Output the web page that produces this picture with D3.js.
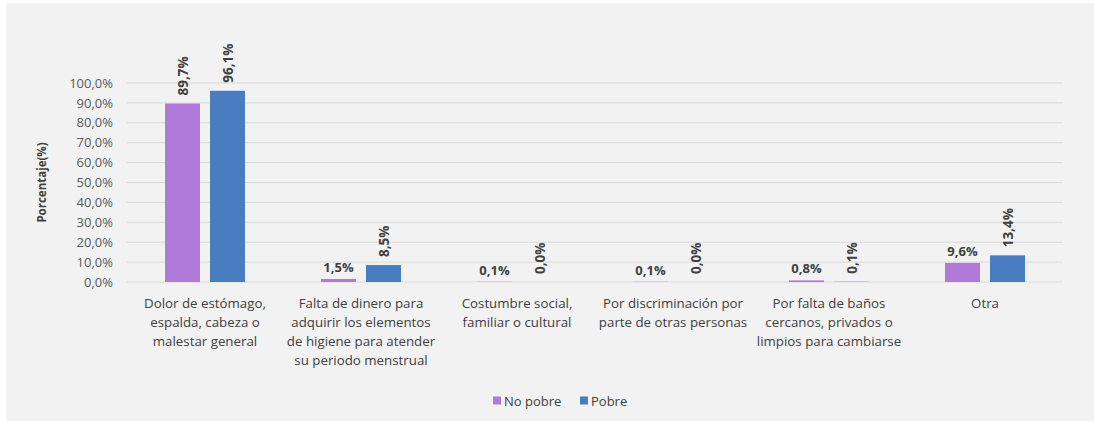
<!DOCTYPE html>
<html lang="es">
<head>
<meta charset="UTF-8">
<script src="https://cdn.jsdelivr.net/npm/d3@7"></script>
<style>
  body { margin: 0; background: #ffffff; }
  svg { display: block; font-family: "Open Sans", "Noto Sans", sans-serif; }
</style>
</head>
<body>
<div id="chart"></div>
<script>
// chart data
const categories = [
  ["Dolor de estómago,", "espalda, cabeza o", "malestar general"],
  ["Falta de dinero para", "adquirir los elementos", "de higiene para atender", "su periodo menstrual"],
  ["Costumbre social,", "familiar o cultural"],
  ["Por discriminación por", "parte de otras personas"],
  ["Por falta de baños", "cercanos, privados o", "limpios para cambiarse"],
  ["Otra"]
];
const seriesNames = ["No pobre", "Pobre"];
const noPobre = [89.7, 1.5, 0.1, 0.1, 0.8, 9.6];
const pobre = [96.1, 8.5, 0.0, 0.0, 0.1, 13.4];
const yTicks = [0, 10, 20, 30, 40, 50, 60, 70, 80, 90, 100];
const colors = ["#b07ad9", "#4a7cc0"];

const W = 1094, H = 423;
const margin = { left: 127, right: 31, top: 83, bottom: 141 };

const svg = d3.select("#chart").append("svg")
  .attr("width", W).attr("height", H);

// gray panel
svg.append("rect")
  .attr("x", 6).attr("y", 3)
  .attr("width", W - 6).attr("height", H - 5)
  .attr("fill", "#f2f2f2");

const fmt = v => d3.format(".1f")(v).replace(".", ",") + "%";

const x0 = d3.scaleBand()
  .domain(d3.range(categories.length))
  .range([margin.left, W - margin.right]);

const y = d3.scaleLinear()
  .domain([0, 100])
  .range([H - margin.bottom, margin.top]);

// gridlines
svg.append("g").selectAll("line")
  .data(yTicks)
  .join("line")
  .attr("x1", margin.left).attr("x2", W - margin.right)
  .attr("y1", d => y(d)).attr("y2", d => y(d))
  .attr("stroke", "#d9d9d9").attr("stroke-width", 1);

// y axis labels
const yAxis = d3.axisLeft(y).tickValues(yTicks).tickFormat(fmt).tickSize(0).tickPadding(14);
svg.append("g")
  .attr("transform", `translate(${margin.left},0)`)
  .call(yAxis)
  .call(g => g.select(".domain").remove())
  .call(g => g.selectAll("text")
    .attr("font-size", 13)
    .attr("fill", "#595959")
    .attr("font-family", "'Open Sans', sans-serif"));

// y axis title
svg.append("text")
  .attr("transform", `translate(46,${(y(0) + y(100)) / 2}) rotate(-90)`)
  .attr("text-anchor", "middle")
  .attr("font-size", 11.5)
  .attr("font-weight", "bold")
  .attr("fill", "#404040")
  .text("Porcentaje(%)");

// bars
const barW = 35, gap = 10;
const x1 = d3.scaleOrdinal().domain([0, 1]).range([-(barW + gap / 2), gap / 2]);

const rows = [];
categories.forEach((c, i) => {
  [noPobre[i], pobre[i]].forEach((v, s) => rows.push({ i, s, v }));
});

const cx = i => x0(i) + x0.bandwidth() / 2;

svg.append("g").selectAll("rect")
  .data(rows)
  .join("rect")
  .attr("x", d => cx(d.i) + x1(d.s))
  .attr("y", d => y(d.v))
  .attr("width", barW)
  .attr("height", d => y(0) - y(d.v))
  .attr("fill", d => colors[d.s]);

// value labels
const lab = svg.append("g")
  .attr("font-weight", "bold")
  .attr("fill", "#404040");

rows.forEach(d => {
  const bx = cx(d.i) + x1(d.s) + barW / 2;
  const rotated = d.s === 1 || d.v > 50;
  if (rotated) {
    lab.append("text")
      .attr("transform", `translate(${bx + 5},${y(d.v) - 8}) rotate(-90)`)
      .attr("text-anchor", "start")
      .attr("font-size", 13.5)
      .text(fmt(d.v));
  } else {
    lab.append("text")
      .attr("x", bx).attr("y", y(d.v) - 7)
      .attr("text-anchor", "middle")
      .attr("font-size", 13)
      .text(fmt(d.v));
  }
});

// category labels
const cat = svg.append("g")
  .attr("font-size", 13.3)
  .attr("fill", "#404040");
categories.forEach((lines, i) => {
  const t = cat.append("text")
    .attr("x", cx(i)).attr("y", y(0) + 26)
    .attr("text-anchor", "middle");
  lines.forEach((ln, k) => {
    t.append("tspan").attr("x", cx(i)).attr("dy", k === 0 ? 0 : 19).text(ln);
  });
});

// legend
const leg = svg.append("g").attr("transform", "translate(493,401)");
const legX = [0, 87];
seriesNames.forEach((n, k) => {
  leg.append("rect")
    .attr("x", legX[k]).attr("y", -4.5)
    .attr("width", 8).attr("height", 8)
    .attr("fill", colors[k]);
  leg.append("text")
    .attr("x", legX[k] + 11).attr("y", 4.5)
    .attr("font-size", 13)
    .attr("fill", "#404040")
    .text(n);
});
</script>
</body>
</html>
